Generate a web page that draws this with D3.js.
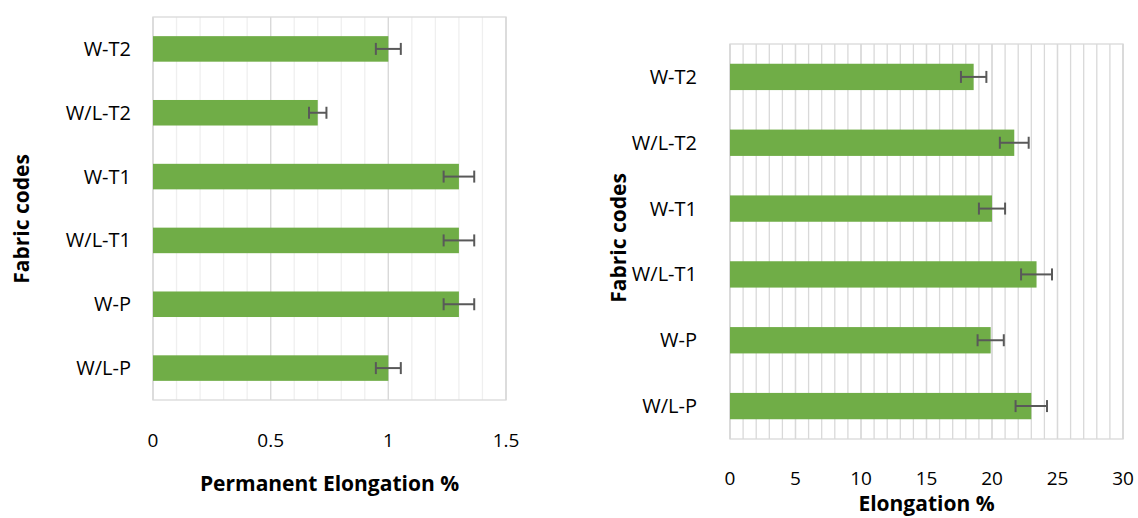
<!DOCTYPE html>
<html>
<head>
<meta charset="utf-8">
<script src="https://cdn.jsdelivr.net/npm/d3@7"></script>
<style>
  body { margin: 0; background: #fff; }
  svg { display: block; font-family: "Open Sans", "Liberation Sans", sans-serif; }
</style>
</head>
<body>
<svg width="1138" height="518"></svg>
<script>
// categories, top to bottom
const codes = ["W-T2", "W/L-T2", "W-T1", "W/L-T1", "W-P", "W/L-P"];

// left chart: permanent elongation
const permValues = [1.0, 0.7, 1.3, 1.3, 1.3, 1.0];
const permErrors = [0.053, 0.037, 0.065, 0.065, 0.065, 0.053];
const permTicks = [0, 0.5, 1, 1.5];

// right chart: elongation
const elongValues = [18.6, 21.7, 20.0, 23.4, 19.9, 23.0];
const elongErrors = [0.97, 1.1, 1.0, 1.18, 1.0, 1.2];
const elongTicks = [0, 5, 10, 15, 20, 25, 30];

const svg = d3.select("svg");
const green = "#70ad47";
const errColor = "#595959";

function drawChart(opt) {
  const x = d3.scaleLinear().domain(opt.domain).range([opt.left, opt.right]);
  const y = d3.scaleBand().domain(codes).range([opt.top, opt.bottom]).paddingInner(0.6).paddingOuter(0.3);
  const g = svg.append("g");

  // minor gridlines
  g.selectAll("line.minor")
    .data(d3.range(opt.domain[0], opt.domain[1] + 1e-9, opt.minorStep))
    .join("line")
    .attr("class", "minor")
    .attr("x1", d => x(d)).attr("x2", d => x(d))
    .attr("y1", opt.top).attr("y2", opt.bottom)
    .attr("stroke", opt.minorColor).attr("stroke-width", opt.minorWidth);

  // major gridlines
  g.selectAll("line.major")
    .data(opt.ticks)
    .join("line")
    .attr("class", "major")
    .attr("x1", d => x(d)).attr("x2", d => x(d))
    .attr("y1", opt.top).attr("y2", opt.bottom)
    .attr("stroke", "#d9d9d9").attr("stroke-width", 1.3);

  // plot border
  g.append("rect")
    .attr("x", opt.left).attr("y", opt.top)
    .attr("width", opt.right - opt.left).attr("height", opt.bottom - opt.top)
    .attr("fill", "none").attr("stroke", "#d9d9d9").attr("stroke-width", 1.3);

  // bars
  g.selectAll("rect.bar")
    .data(codes)
    .join("rect")
    .attr("class", "bar")
    .attr("x", x(0))
    .attr("y", d => y(d))
    .attr("width", (d, i) => x(opt.values[i]) - x(0))
    .attr("height", y.bandwidth())
    .attr("fill", green);

  // error bars
  const err = g.selectAll("g.err").data(codes).join("g").attr("class", "err")
    .attr("stroke", errColor).attr("stroke-width", 2);
  err.append("line")
    .attr("x1", (d, i) => x(opt.values[i] - opt.errors[i]))
    .attr("x2", (d, i) => x(opt.values[i] + opt.errors[i]))
    .attr("y1", d => y(d) + y.bandwidth() / 2)
    .attr("y2", d => y(d) + y.bandwidth() / 2);
  [-1, 1].forEach(s => {
    err.append("line")
      .attr("x1", (d, i) => x(opt.values[i] + s * opt.errors[i]))
      .attr("x2", (d, i) => x(opt.values[i] + s * opt.errors[i]))
      .attr("y1", d => y(d) + y.bandwidth() / 2 - 6)
      .attr("y2", d => y(d) + y.bandwidth() / 2 + 6);
  });

  // category labels
  g.selectAll("text.cat")
    .data(codes)
    .join("text")
    .attr("class", "cat")
    .attr("x", opt.catX)
    .attr("y", d => y(d) + y.bandwidth() / 2)
    .attr("dy", "0.35em")
    .attr("text-anchor", "end")
    .attr("font-size", 20)
    .attr("fill", "#000")
    .text(d => d);

  // x tick labels
  g.selectAll("text.tick")
    .data(opt.ticks)
    .join("text")
    .attr("class", "tick")
    .attr("x", d => x(d))
    .attr("y", opt.tickY)
    .attr("dy", "0.35em")
    .attr("text-anchor", "middle")
    .attr("font-size", 19)
    .text(d => d);

  // x axis title
  g.append("text")
    .attr("x", (opt.left + opt.right) / 2)
    .attr("y", opt.titleY)
    .attr("dy", "0.35em")
    .attr("text-anchor", "middle")
    .attr("font-size", 21)
    .attr("font-weight", "bold")
    .text(opt.title);

  // y axis title
  g.append("text")
    .attr("transform", `translate(${opt.yTitleX},${opt.yTitleY}) rotate(-90)`)
    .attr("dy", "0.35em")
    .attr("text-anchor", "middle")
    .attr("font-size", 21)
    .attr("font-weight", "bold")
    .text("Fabric codes");
}

drawChart({
  domain: [0, 1.5], ticks: permTicks, values: permValues, errors: permErrors,
  left: 153, right: 506, top: 17, bottom: 400,
  minorStep: 0.1, minorColor: "#efefef", minorWidth: 1.3,
  catX: 131, tickY: 440, titleY: 484,
  title: "Permanent Elongation %", yTitleX: 22, yTitleY: 219
});

drawChart({
  domain: [0, 30], ticks: elongTicks, values: elongValues, errors: elongErrors,
  left: 730, right: 1123, top: 44, bottom: 439,
  minorStep: 1, minorColor: "#d9d9d9", minorWidth: 1.3,
  catX: 697, tickY: 478, titleY: 504,
  title: "Elongation %", yTitleX: 619, yTitleY: 238
});
</script>
</body>
</html>
